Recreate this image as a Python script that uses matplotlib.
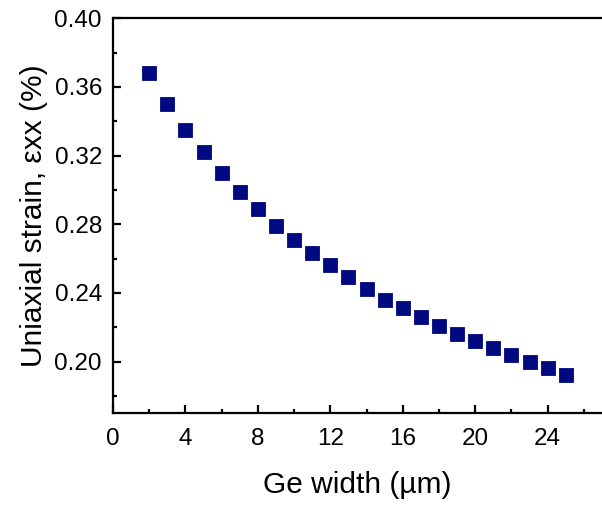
import matplotlib
matplotlib.use("Agg")
import matplotlib.pyplot as plt
from matplotlib.ticker import MultipleLocator

# Ge stripe width (um) and simulated uniaxial strain (%)
ge_width = [2, 3, 4, 5, 6, 7, 8, 9, 10, 11, 12, 13, 14, 15, 16, 17, 18, 19, 20, 21, 22, 23, 24, 25]
strain_xx = [0.368, 0.350, 0.335, 0.322, 0.310, 0.299, 0.289, 0.279, 0.271, 0.263,
             0.256, 0.249, 0.242, 0.236, 0.231, 0.226, 0.221, 0.216, 0.212, 0.208,
             0.204, 0.200, 0.196, 0.192]

x_ticks = [0, 4, 8, 12, 16, 20, 24]
y_ticks = [0.20, 0.24, 0.28, 0.32, 0.36, 0.40]

plt.rcParams['font.family'] = ['Liberation Sans', 'DejaVu Sans']

fig = plt.figure(figsize=(6.02, 5.05), dpi=100)
ax = fig.add_axes([0.1877, 0.182, 0.8123, 0.782])

ax.plot(ge_width, strain_xx, linestyle='none', marker='s', markersize=10,
        color='#00097f', markeredgecolor='#00097f', markeredgewidth=0.6)

ax.set_xlim(0, 27)
ax.set_ylim(0.17, 0.40)
ax.set_xticks(x_ticks)
ax.set_yticks(y_ticks)
ax.set_yticklabels([f"{v:.2f}" for v in y_ticks])
ax.xaxis.set_minor_locator(MultipleLocator(2))
ax.yaxis.set_minor_locator(MultipleLocator(0.02))

ax.spines['right'].set_visible(False)
for s in ('left', 'bottom', 'top'):
    ax.spines[s].set_linewidth(1.6)

ax.tick_params(which='major', direction='in', length=6, width=1.6, labelsize=17.5)
ax.tick_params(which='minor', direction='in', length=3, width=1.6)
ax.tick_params(axis='x', which='major', pad=11)
ax.tick_params(axis='y', which='major', pad=8)

ax.set_xlabel('Ge width (µm)', fontsize=21.5, labelpad=14.5)
ax.set_ylabel('Uniaxial strain, εxx (%)', fontsize=21.5, labelpad=4.5)

fig.savefig('out.png', dpi=100)
